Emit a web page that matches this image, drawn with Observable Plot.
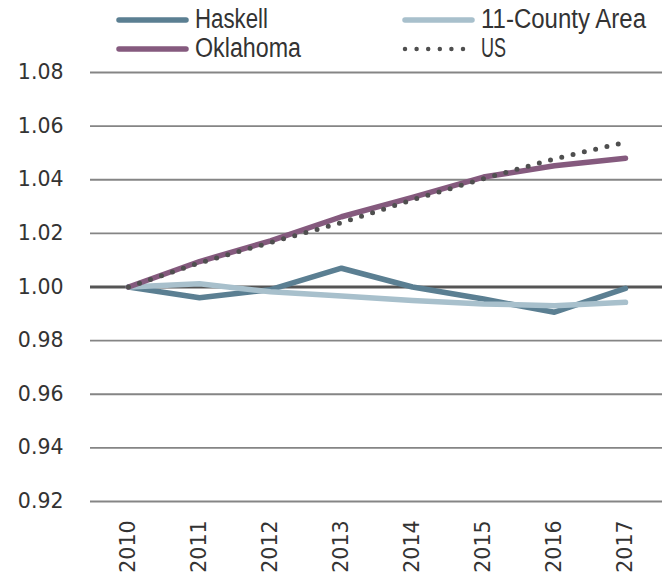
<!DOCTYPE html>
<html>
<head>
<meta charset="utf-8">
<script src="https://cdn.jsdelivr.net/npm/d3@7"></script>
<script src="https://cdn.jsdelivr.net/npm/@observablehq/plot@0.6"></script>
<style>
  html, body { margin: 0; padding: 0; background: #fff; }
  #chart { position: relative; width: 668px; height: 576px; }
  #legend { position: absolute; left: 0; top: 0; display: block; }
  .lg text { font-family: "Liberation Sans", Arial, sans-serif; font-size: 27px; fill: #333; }
  .mainplot text { font-family: "DejaVu Sans", sans-serif; }
</style>
</head>
<body>
<div id="chart"></div>
<script>
const years = [2010, 2011, 2012, 2013, 2014, 2015, 2016, 2017];
const haskell  = [1.000, 0.996, 0.999, 1.007, 1.000, 0.9955, 0.9906, 0.9995];
const county   = [1.000, 1.0012, 0.9982, 0.9966, 0.995, 0.9937, 0.993, 0.9943];
const oklahoma = [1.000, 1.0095, 1.0172, 1.0262, 1.0334, 1.041, 1.0452, 1.048];
const us       = [1.000, 1.009, 1.0166, 1.024, 1.0325, 1.0404, 1.0478, 1.054];
const seriesNames = ["Haskell", "11-County Area", "Oklahoma", "US"];
const yTicks = [0.92, 0.94, 0.96, 0.98, 1.00, 1.02, 1.04, 1.06, 1.08];

const colors = {"Haskell": "#5b7f92", "11-County Area": "#a8c0cc", "Oklahoma": "#855a7e", "US": "#4f4f4f"};

const toRows = (name, vals) => years.map((y, i) => ({series: name, year: String(y), value: vals[i]}));
const hRows = toRows("Haskell", haskell);
const cRows = toRows("11-County Area", county);
const oRows = toRows("Oklahoma", oklahoma);
const uRows = toRows("US", us);

const plot = Plot.plot({
  className: "mainplot",
  width: 668,
  height: 576,
  marginTop: 72,
  marginBottom: 75,
  marginLeft: 90,
  marginRight: 6,
  style: {fontFamily: "DejaVu Sans", fontSize: "20px", color: "#333", background: "#fff"},
  x: {type: "point", domain: years.map(String), padding: 0.5, label: null},
  y: {domain: [0.92, 1.08], label: null},
  marks: [
    Plot.ruleY(yTicks.filter(d => d !== 1.00), {stroke: "#858585", strokeWidth: 1.8}),
    Plot.ruleY([1.00], {stroke: "#555", strokeWidth: 3}),
    Plot.axisY(yTicks, {tickSize: 0, tickPadding: 27, tickFormat: d3.format(".2f"), fontSize: 20.5, fill: "#333", label: null}),
    Plot.axisX({tickSize: 0, tickRotate: -90, tickPadding: 19, fontSize: 20.5, fill: "#333", label: null}),
    Plot.lineY(hRows, {x: "year", y: "value", stroke: colors["Haskell"], strokeWidth: 5.5}),
    Plot.lineY(cRows, {x: "year", y: "value", stroke: colors["11-County Area"], strokeWidth: 5.5}),
    Plot.lineY(oRows, {x: "year", y: "value", stroke: colors["Oklahoma"], strokeWidth: 5.5}),
    Plot.lineY(uRows, {x: "year", y: "value", stroke: colors["US"], strokeWidth: 5, strokeLinecap: "round", strokeDasharray: "0 11.6"})
  ]
});
document.getElementById("chart").appendChild(plot);

// Legend (overlaid at the top, outside the plot frame)
const legend = d3.select("#chart").append("svg")
  .attr("id", "legend").attr("width", 668).attr("height", 66).attr("class", "lg");
const items = [
  {name: "Haskell", x: 117, y: 20, dots: false, w: 73},
  {name: "11-County Area", x: 403, y: 20, dots: false, w: 165},
  {name: "Oklahoma", x: 117, y: 49, dots: false, w: 106},
  {name: "US", x: 403, y: 49, dots: true, w: 25}
];
for (const it of items) {
  if (it.dots) {
    legend.append("line").attr("x1", it.x + 2).attr("x2", it.x + 62).attr("y1", it.y).attr("y2", it.y)
      .attr("stroke", colors[it.name]).attr("stroke-width", 4.5)
      .attr("stroke-linecap", "round").attr("stroke-dasharray", "0 11.6");
  } else {
    legend.append("line").attr("x1", it.x + 2).attr("x2", it.x + 69).attr("y1", it.y).attr("y2", it.y)
      .attr("stroke", colors[it.name]).attr("stroke-width", 5.5).attr("stroke-linecap", "round");
  }
  legend.append("text").attr("x", it.x + 78).attr("y", it.y + 7.5)
    .attr("textLength", it.w).attr("lengthAdjust", "spacingAndGlyphs").text(it.name);
}
</script>
</body>
</html>
